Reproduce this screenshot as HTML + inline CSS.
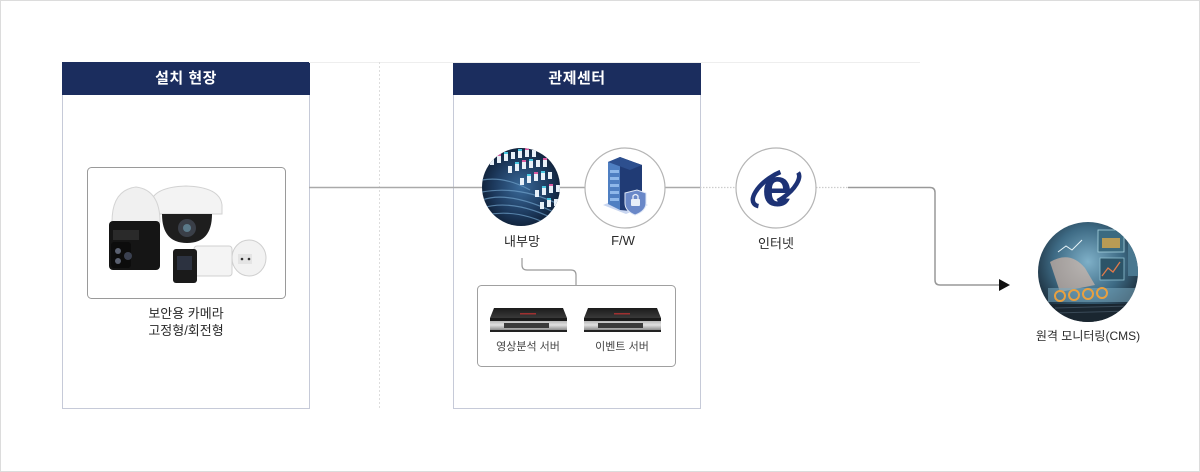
<!DOCTYPE html>
<html lang="ko">
<head>
<meta charset="utf-8">
<style>
  html,body{margin:0;padding:0;background:#fff;}
  body{width:1200px;height:472px;position:relative;overflow:hidden;font-family:"Liberation Sans","Noto Sans CJK KR",sans-serif;}
  .frame{position:absolute;left:0;top:0;width:1198px;height:470px;border:1px solid #dcdcdc;}
  .box{position:absolute;top:62px;width:246px;height:346px;border-left:1px solid #c6cad8;border-right:1px solid #c6cad8;border-bottom:1px solid #c6cad8;}
  .hdr{position:absolute;left:-1px;top:0;width:248px;height:33px;background:#1b2d5e;color:#fff;font-weight:bold;font-size:15px;line-height:33px;text-align:center;letter-spacing:0.5px;}
  .lbl{position:absolute;color:#2a2a2a;font-size:13px;text-align:center;white-space:nowrap;transform:translateX(-50%);}
  .sm{font-size:11px;color:#444;}
  svg{position:absolute;left:0;top:0;}
</style>
</head>
<body>
<div class="frame"></div>

<div class="box" style="left:62px;"><div class="hdr">설치 현장</div></div>
<div class="box" style="left:453px;"><div class="hdr">관제센터</div></div>

<svg width="1200" height="472" viewBox="0 0 1200 472">
  <defs>
    <radialGradient id="net" cx="50%" cy="50%" r="55%">
      <stop offset="0" stop-color="#3a6a9a"/>
      <stop offset="0.6" stop-color="#1d3a5e"/>
      <stop offset="1" stop-color="#0c1a2e"/>
    </radialGradient>
    <radialGradient id="cms" cx="50%" cy="40%" r="60%">
      <stop offset="0" stop-color="#7fb0c8"/>
      <stop offset="0.55" stop-color="#3d6a84"/>
      <stop offset="1" stop-color="#16222e"/>
    </radialGradient>
    <linearGradient id="srvFront" x1="0" y1="0" x2="0" y2="1">
      <stop offset="0" stop-color="#9a9a9a"/>
      <stop offset="0.5" stop-color="#e0e0e0"/>
      <stop offset="1" stop-color="#6a6a6a"/>
    </linearGradient>
    <linearGradient id="srvTop" x1="0" y1="0" x2="0" y2="1">
      <stop offset="0" stop-color="#1c1c1c"/>
      <stop offset="1" stop-color="#3a3a3a"/>
    </linearGradient>
    <clipPath id="c1"><circle cx="521" cy="187" r="39"/></clipPath>
    <clipPath id="c4"><circle cx="1088" cy="272" r="50"/></clipPath>
  </defs>

  <line x1="309" y1="62.5" x2="920" y2="62.5" stroke="#eeeeee" stroke-width="1"/>
  <line x1="379.5" y1="62" x2="379.5" y2="410" stroke="#dddddd" stroke-width="1" stroke-dasharray="2,2"/>

  <line x1="309" y1="187.5" x2="483" y2="187.5" stroke="#aaaaaa" stroke-width="1.5"/>
  <line x1="560" y1="187.5" x2="585" y2="187.5" stroke="#aaaaaa" stroke-width="1.5"/>
  <line x1="665" y1="187.5" x2="700" y2="187.5" stroke="#aaaaaa" stroke-width="1.5"/>
  <line x1="700" y1="187.5" x2="736" y2="187.5" stroke="#cccccc" stroke-width="1.2" stroke-dasharray="1.5,1.5"/>
  <line x1="816" y1="187.5" x2="848" y2="187.5" stroke="#cccccc" stroke-width="1.2" stroke-dasharray="1.5,1.5"/>
  <path d="M848 187.5 H930 Q935 187.5 935 192.5 V280 Q935 285 940 285 H1000" fill="none" stroke="#999999" stroke-width="1.5"/>
  <polygon points="999,279 1010,285 999,291" fill="#111"/>

  <path d="M522 258 V265 Q522 270 527 270 H571 Q576 270 576 275 V285" fill="none" stroke="#999999" stroke-width="1.2"/>

  <!-- camera box -->
  <rect x="87.5" y="167.5" width="198" height="131" rx="4" fill="#fff" stroke="#9a9a9a" stroke-width="1"/>
  <ellipse cx="249" cy="258" rx="17" ry="18" fill="#f2f2f2" stroke="#cfcfcf"/>
  <rect x="238" y="254" width="14" height="10" fill="#e4e4e4"/>
  <circle cx="242" cy="259" r="1.3" fill="#333"/><circle cx="249" cy="259" r="1.3" fill="#333"/>
  <!-- dome camera (behind PTZ) -->
  <path d="M150 205 Q152 187 186 186 Q220 187 222 205 L222 214 L150 214 Z" fill="#f3f3f3" stroke="#d2d2d2"/>
  <path d="M162 214 Q162 243 187 243 Q212 243 212 214 Z" fill="#1e1e1e"/>
  <circle cx="187" cy="228" r="9" fill="#3a3f48"/>
  <circle cx="187" cy="228" r="4" fill="#5b7a8a"/>
  <!-- PTZ camera -->
  <path d="M112 222 Q112 190 136 187 Q160 190 160 222 Z" fill="#f0f0f0" stroke="#d4d4d4"/>
  <rect x="109" y="221" width="51" height="49" rx="4" fill="#151515"/>
  <rect x="113" y="230" width="26" height="10" fill="#2a2a2a"/>
  <rect x="111" y="242" width="20" height="26" rx="3" fill="#0c0c0c"/>
  <circle cx="118" cy="251" r="3" fill="#5a6070"/><circle cx="118" cy="261" r="3" fill="#5a6070"/>
  <circle cx="128" cy="256" r="4" fill="#3a4050"/>
  <!-- bullet camera -->
  <rect x="194" y="246" width="38" height="30" rx="3" fill="#f4f4f4" stroke="#d0d0d0"/>
  <rect x="173" y="249" width="24" height="34" rx="3" fill="#1a1a1a"/>
  <rect x="177" y="256" width="15" height="14" fill="#2c3240"/>

  <!-- network circle -->
  <g clip-path="url(#c1)">
    <rect x="480" y="146" width="82" height="82" fill="url(#net)"/>
    <g stroke="#6fa0c8" stroke-width="1.2" opacity="0.7" fill="none">
      <path d="M482 200 Q510 190 560 215"/>
      <path d="M482 208 Q515 198 560 222"/>
      <path d="M482 192 Q520 185 560 205"/>
      <path d="M485 215 Q520 208 555 228"/>
      <path d="M482 180 Q505 176 530 190"/>
    </g>
    <g fill="#e8f0f8">
      <rect x="490" y="158" width="4" height="7"/><rect x="497" y="156" width="4" height="7"/><rect x="504" y="154" width="4" height="7"/><rect x="511" y="152" width="4" height="7"/><rect x="518" y="151" width="4" height="7"/><rect x="525" y="150" width="4" height="7"/><rect x="532" y="150" width="4" height="7"/>
      <rect x="508" y="166" width="4" height="7"/><rect x="515" y="164" width="4" height="7"/><rect x="522" y="162" width="4" height="7"/><rect x="529" y="161" width="4" height="7"/><rect x="536" y="160" width="4" height="7"/><rect x="543" y="160" width="4" height="7"/>
      <rect x="520" y="178" width="4" height="7"/><rect x="527" y="176" width="4" height="7"/><rect x="534" y="174" width="4" height="7"/><rect x="541" y="173" width="4" height="7"/><rect x="548" y="172" width="4" height="7"/>
      <rect x="535" y="190" width="4" height="7"/><rect x="542" y="188" width="4" height="7"/><rect x="549" y="186" width="4" height="7"/><rect x="556" y="185" width="4" height="7"/>
      <rect x="540" y="202" width="4" height="7"/><rect x="547" y="200" width="4" height="7"/><rect x="554" y="199" width="4" height="7"/>
    </g>
    <g fill="#49c6e0">
      <rect x="490" y="156" width="4" height="2"/><rect x="504" y="152" width="4" height="2"/><rect x="518" y="149" width="4" height="2"/><rect x="515" y="162" width="4" height="2"/><rect x="529" y="159" width="4" height="2"/><rect x="527" y="174" width="4" height="2"/><rect x="541" y="171" width="4" height="2"/><rect x="542" y="186" width="4" height="2"/><rect x="547" y="198" width="4" height="2"/>
    </g>
    <g fill="#d85aa0">
      <rect x="497" y="154" width="4" height="2"/><rect x="525" y="148" width="4" height="2"/><rect x="522" y="160" width="4" height="2"/><rect x="543" y="158" width="4" height="2"/><rect x="534" y="172" width="4" height="2"/><rect x="549" y="184" width="4" height="2"/>
    </g>
  </g>

  <!-- F/W circle -->
  <circle cx="625" cy="188" r="40" fill="#fff" stroke="#b5b5b5" stroke-width="1.2"/>
  <polygon points="603,205 625,196 648,205 626,214" fill="#c9d6f0"/>
  <polygon points="608,162 620,157 620,210 608,204" fill="#4f7fc2"/>
  <polygon points="620,157 642,165 642,212 620,210" fill="#203b75"/>
  <polygon points="608,162 620,157 642,165 630,170" fill="#2d4f8e"/>
  <g fill="#8fb8ea">
    <rect x="610" y="170" width="9" height="3"/><rect x="610" y="177" width="9" height="3"/><rect x="610" y="184" width="9" height="3"/><rect x="610" y="191" width="9" height="3"/><rect x="610" y="198" width="9" height="3"/>
  </g>
  <path d="M625 193 L637 190 L646 193 L646 203 Q646 211 635 215 Q625 211 625 203 Z" fill="#6a88c8" stroke="#dfe7f6" stroke-width="1"/>
  <rect x="631" y="199" width="9" height="7" rx="1" fill="#e8eef8"/>
  <path d="M633 199 V196 Q635.5 193 638 196 V199" fill="none" stroke="#e8eef8" stroke-width="1.3"/>

  <!-- Internet circle -->
  <circle cx="776" cy="188" r="40" fill="#fff" stroke="#b5b5b5" stroke-width="1.2"/>
  <text x="777" y="206" text-anchor="middle" font-family="Liberation Sans, sans-serif" font-weight="bold" font-size="54" fill="#1d3275">e</text>
  <ellipse cx="776" cy="188" rx="27" ry="12" fill="none" stroke="#1d3275" stroke-width="4.5" transform="rotate(-35 776 188)" stroke-dasharray="50,20" stroke-dashoffset="12"/>

  <!-- server box -->
  <rect x="477.5" y="285.5" width="198" height="81" rx="4" fill="#fff" stroke="#a0a0a0" stroke-width="1"/>
  <g>
    <polygon points="494,308 563,308 567,318 490,318" fill="url(#srvTop)"/>
    <rect x="490" y="318" width="77" height="14" fill="url(#srvFront)"/>
    <rect x="490" y="318" width="77" height="3" fill="#1a1a1a"/>
    <rect x="504" y="323" width="45" height="5" fill="#3a3a3a"/>
    <rect x="520" y="313" width="16" height="1.5" fill="#a03030"/>
    <rect x="490" y="330" width="77" height="2" fill="#222"/>
  </g>
  <g>
    <polygon points="588,308 657,308 661,318 584,318" fill="url(#srvTop)"/>
    <rect x="584" y="318" width="77" height="14" fill="url(#srvFront)"/>
    <rect x="584" y="318" width="77" height="3" fill="#1a1a1a"/>
    <rect x="598" y="323" width="45" height="5" fill="#3a3a3a"/>
    <rect x="614" y="313" width="16" height="1.5" fill="#a03030"/>
    <rect x="584" y="330" width="77" height="2" fill="#222"/>
  </g>

  <!-- CMS circle -->
  <g clip-path="url(#c4)">
    <rect x="1036" y="220" width="104" height="104" fill="url(#cms)"/>
    <rect x="1054" y="234" width="40" height="30" fill="#a8dce8" opacity="0.45" transform="skewY(6)"/>
    <path d="M1058 252 L1066 246 L1072 250 L1082 240" stroke="#e8f4f8" stroke-width="1" fill="none"/>
    <rect x="1098" y="230" width="26" height="22" fill="#3b6a80" stroke="#a8d4e0" stroke-width="0.8"/>
    <rect x="1102" y="238" width="18" height="10" fill="#d8a84a" opacity="0.8"/>
    <rect x="1100" y="258" width="24" height="22" fill="#2c5468" stroke="#8fc0d0" stroke-width="0.8"/>
    <path d="M1102 276 L1108 268 L1113 272 L1120 262" stroke="#e07a4a" stroke-width="1.3" fill="none"/>
    <rect x="1128" y="236" width="12" height="40" fill="#4a7890"/>
    <path d="M1050 262 Q1070 250 1085 268 L1095 285 L1060 292 Z" fill="#d8b8a8" opacity="0.65"/>
    <rect x="1048" y="288" width="90" height="14" fill="#7aaac0" opacity="0.55"/>
    <g fill="none" stroke="#e8a040" stroke-width="2">
      <circle cx="1060" cy="296" r="5"/><circle cx="1074" cy="295" r="5"/><circle cx="1088" cy="294" r="5"/><circle cx="1102" cy="293" r="5"/>
    </g>
    <rect x="1040" y="304" width="100" height="20" fill="#1a2630"/>
    <g stroke="#3a4a58" stroke-width="1"><line x1="1055" y1="308" x2="1130" y2="306"/><line x1="1055" y1="313" x2="1130" y2="311"/></g>
  </g>
</svg>

<div class="lbl" style="left:186px;top:305px;line-height:17px;">보안용 카메라<br>고정형/회전형</div>
<div class="lbl" style="left:522px;top:231px;">내부망</div>
<div class="lbl" style="left:623px;top:233px;">F/W</div>
<div class="lbl" style="left:776px;top:233px;">인터넷</div>
<div class="lbl sm" style="left:528px;top:338px;">영상분석 서버</div>
<div class="lbl sm" style="left:622px;top:338px;">이벤트 서버</div>
<div class="lbl" style="left:1088px;top:327px;font-size:12px;">원격 모니터링(CMS)</div>
</body>
</html>
